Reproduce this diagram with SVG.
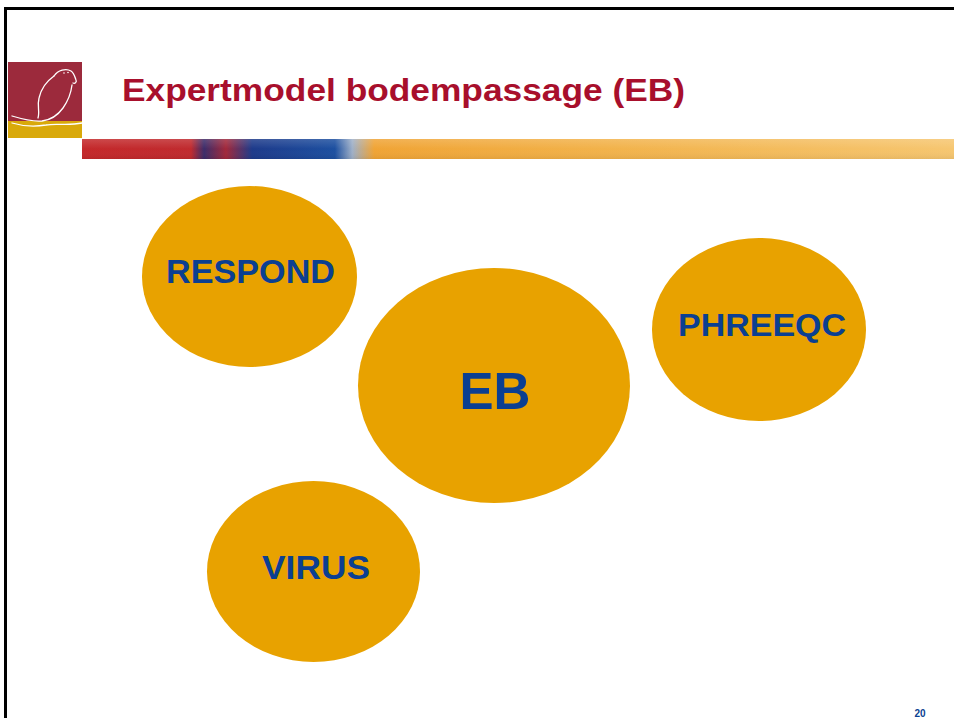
<svg xmlns="http://www.w3.org/2000/svg" width="954" height="718" viewBox="0 0 954 718">
  <style>
    .node ellipse { fill: #e8a200; }
    .label { font-family: "Liberation Sans", Arial, sans-serif; font-weight: bold; fill: #0b3f91; text-anchor: middle; }
    .title { font-family: "Liberation Sans", Arial, sans-serif; font-weight: bold; fill: #a80f2c; }
    .beaver { fill: none; stroke: #ffffff; stroke-width: 1.3; stroke-linecap: round; stroke-linejoin: round; }
  </style>
  <defs>
    <linearGradient id="bannerGrad" x1="0" y1="0" x2="1" y2="0">
      <stop offset="0" stop-color="#c4282a"/>
      <stop offset="0.125" stop-color="#c02a2e"/>
      <stop offset="0.14" stop-color="#3b2c6a"/>
      <stop offset="0.165" stop-color="#a2283a"/>
      <stop offset="0.195" stop-color="#1d3a8a"/>
      <stop offset="0.29" stop-color="#1c4fa0"/>
      <stop offset="0.31" stop-color="#9fb0c8"/>
      <stop offset="0.335" stop-color="#f0a435"/>
      <stop offset="0.6" stop-color="#f2b24a"/>
      <stop offset="1" stop-color="#f6c670"/>
    </linearGradient>
    <linearGradient id="bannerShade" x1="0" y1="0" x2="0" y2="1">
      <stop offset="0" stop-color="#ffffff" stop-opacity="0.15"/>
      <stop offset="0.5" stop-color="#ffffff" stop-opacity="0"/>
      <stop offset="1" stop-color="#000000" stop-opacity="0.06"/>
    </linearGradient>
  </defs>

  <rect x="0" y="0" width="954" height="718" fill="#ffffff"/>

  <!-- page frame -->
  <path d="M5.5 718 V8.5 H954" fill="none" stroke="#000000" stroke-width="3"/>

  <!-- logo: beaver on a riverbank -->
  <g id="logo">
    <rect x="8" y="62" width="74" height="59" fill="#9c2a3c"/>
    <rect x="8" y="121" width="74" height="17" fill="#d9a90a"/>
    <path class="beaver" d="M54 76 C58 70 66 68 71 71 C74 73 75 77 76 80 C77 82 75 84 73 83"/>
    <path class="beaver" d="M54 76 C47 81 41 89 39 98 C37 106 40 112 38 118"/>
    <path class="beaver" d="M72 85 C71 93 68 101 63 108 C58 115 50 120 42 121 C32 122 22 119 12 116"/>
    <path class="beaver" d="M12 123 C22 126 34 127 46 125 C56 123 68 126 82 123"/>
    <circle cx="64" cy="73" r="0.8" fill="#ffffff"/>
    <circle cx="68" cy="72.5" r="0.8" fill="#ffffff"/>
  </g>

  <!-- painted banner -->
  <g id="banner">
    <rect x="82" y="139" width="872" height="20" fill="url(#bannerGrad)"/>
    <rect x="82" y="139" width="872" height="20" fill="url(#bannerShade)"/>
  </g>

  <!-- title -->
  <text class="title" x="122" y="101" font-size="31" textLength="563" lengthAdjust="spacingAndGlyphs">Expertmodel bodempassage (EB)</text>

  <!-- nodes -->
  <g id="node-respond" class="node">
    <ellipse cx="249.5" cy="276.5" rx="107.5" ry="90.5"/>
    <text class="label" x="250.5" y="283" font-size="33" textLength="169" lengthAdjust="spacingAndGlyphs">RESPOND</text>
  </g>
  <g id="node-eb" class="node">
    <ellipse cx="494" cy="385.5" rx="136" ry="117.5"/>
    <text class="label" x="495" y="409" font-size="52" textLength="71" lengthAdjust="spacingAndGlyphs">EB</text>
  </g>
  <g id="node-phreeqc" class="node">
    <ellipse cx="759" cy="329.5" rx="107" ry="91.5"/>
    <text class="label" x="762" y="336" font-size="32" textLength="168" lengthAdjust="spacingAndGlyphs">PHREEQC</text>
  </g>
  <g id="node-virus" class="node">
    <ellipse cx="313.5" cy="571.5" rx="106.5" ry="90.5"/>
    <text class="label" x="316" y="579" font-size="33" textLength="108" lengthAdjust="spacingAndGlyphs">VIRUS</text>
  </g>

  <g id="connectors"/>

  <!-- page number -->
  <text class="label" x="920" y="717" font-size="10">20</text>
</svg>
